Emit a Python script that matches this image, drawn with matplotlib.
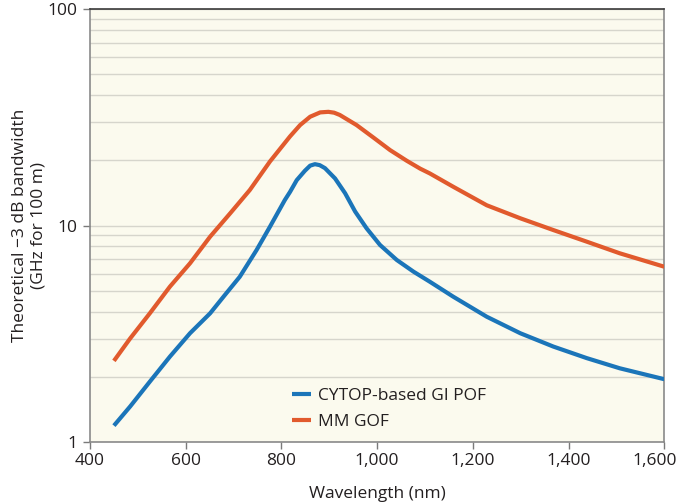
import matplotlib
matplotlib.use("Agg")
import matplotlib.pyplot as plt
from matplotlib.ticker import LogLocator, FixedLocator, FuncFormatter, NullFormatter
from matplotlib.transforms import ScaledTranslation

plt.rcParams['font.family'] = ['Open Sans', 'DejaVu Sans']

# Data
cytop_wl = [450, 484, 525, 567, 609, 651, 682, 713, 748, 776, 807, 818, 832, 849, 860, 870, 880, 891, 912,
            933, 954, 978, 1006, 1041, 1076, 1110, 1159, 1229, 1299, 1368, 1438, 1507, 1600]
cytop_bw = [1.19, 1.46, 1.90, 2.48, 3.18, 3.93, 4.78, 5.80, 7.70, 9.87, 13.1, 14.3, 16.2, 17.9, 18.9, 19.2, 19.0, 18.4, 16.5,
            14.1, 11.6, 9.70, 8.13, 6.93, 6.12, 5.50, 4.69, 3.79, 3.18, 2.76, 2.44, 2.19, 1.95]

gof_wl = [450, 484, 525, 567, 609, 651, 693, 734, 776, 818, 839, 860, 881, 898, 910, 922, 957, 992,
          1027, 1062, 1090, 1110, 1159, 1229, 1299, 1368, 1438, 1507, 1600]
gof_bw = [2.37, 3.01, 3.93, 5.22, 6.69, 8.88, 11.39, 14.59, 19.75, 25.8, 29.1, 31.8, 33.3, 33.5, 33.2, 32.4, 29.1, 25.5,
          22.3, 19.9, 18.3, 17.4, 15.1, 12.4, 10.8, 9.53, 8.42, 7.44, 6.45]

series_labels = ["CYTOP-based GI POF", "MM GOF"]
x_ticks = [400, 600, 800, 1000, 1200, 1400, 1600]
y_ticks = [1, 10, 100]

BLUE = "#1b75b9"
ORANGE = "#e15a2d"
TEXT = "#231f20"

fig = plt.figure(figsize=(6.85, 5.03), dpi=100)
ax = fig.add_axes([90/685, 1-442/503, (664.3-90)/685, (442-9)/503])
ax.set_facecolor("#fbfaee")

ax.plot(cytop_wl, cytop_bw, color=BLUE, lw=3.0, solid_capstyle='butt', solid_joinstyle='round',
        label=series_labels[0], zorder=3)
ax.plot(gof_wl, gof_bw, color=ORANGE, lw=3.0, solid_capstyle='butt', solid_joinstyle='round',
        label=series_labels[1], zorder=3)

ax.set_yscale('log')
ax.set_ylim(1, 100)
ax.set_xlim(400, 1600)

ax.yaxis.set_major_locator(FixedLocator(y_ticks))
ax.yaxis.set_major_formatter(FuncFormatter(lambda v, p: f"{int(v)}"))
ax.yaxis.set_minor_locator(LogLocator(base=10, subs=range(2, 10)))
ax.yaxis.set_minor_formatter(NullFormatter())
ax.xaxis.set_major_locator(FixedLocator(x_ticks))
ax.xaxis.set_major_formatter(FuncFormatter(lambda v, p: f"{int(v):,}"))

ax.grid(True, which='both', axis='y', color="#d6d5cc", lw=1.0, zorder=1)
ax.tick_params(axis='y', which='minor', length=0)
ax.tick_params(axis='both', which='major', length=5, width=1, color="#7a7a7a",
               labelsize=12.5, labelcolor=TEXT, direction='out')
ax.tick_params(axis='y', which='major', pad=4)
ax.tick_params(axis='x', which='major', pad=3)

for s in ['left', 'bottom', 'right']:
    ax.spines[s].set_color("#8a8a8a")
    ax.spines[s].set_linewidth(1.2)
ax.spines['top'].set_color("#3a3a3a")
ax.spines['top'].set_linewidth(1.2)

ax.set_xlabel("Wavelength (nm)", fontsize=12.5, color=TEXT, labelpad=12)
ax.set_ylabel("Theoretical \u22123 dB bandwidth\n(GHz for 100 m)", fontsize=12.5, color=TEXT,
              linespacing=1.15, labelpad=1)

leg = ax.legend(loc='lower left', bbox_to_anchor=(0.33, 0.0), frameon=False, fontsize=12.5,
                handlelength=1.1, handletextpad=0.4, labelspacing=0.55, borderaxespad=0.3)
for t in leg.get_texts():
    t.set_color(TEXT)

fig.canvas.draw()
labels = ax.get_xticklabels()
labels[-1].set_transform(labels[-1].get_transform() + ScaledTranslation(-10/100, 0, fig.dpi_scale_trans))

fig.savefig("out.png", dpi=100)
